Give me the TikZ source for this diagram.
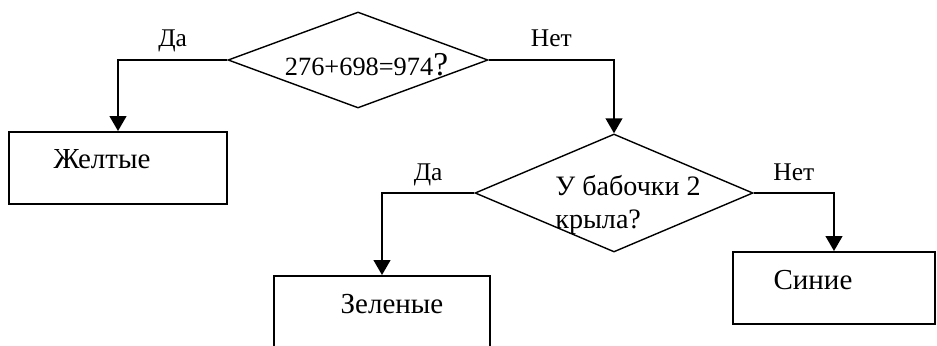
\documentclass[tikz,border=0pt]{standalone}
\usepackage{fontspec}
\setmainfont{Liberation Serif}
\usetikzlibrary{shapes.geometric,arrows.meta,positioning}

\begin{document}
\begin{tikzpicture}[line join=miter,
	decision/.style = {diamond, draw, line width=0.8pt, inner sep=0pt},
	result/.style = {rectangle, draw, line width=1.1pt, inner sep=0pt},
	txt/.style = {inner sep=0pt, font=\fontsize{16.5}{19}\selectfont},
	lbl/.style = {inner sep=0pt, text depth=0pt, font=\fontsize{14.5}{17}\selectfont},
	flow/.style = {line width=1.1pt, -{Triangle[length=8.5pt,width=9.5pt]}}]
	\useasboundingbox (0,0) rectangle (18.74,-6.90);
	\clip (0,0) rectangle (18.74,-6.90);
	\node (Q1) at ( 7.16, -1.20)	[decision, minimum width=5.20cm, minimum height=1.92cm]	{};
	\node (Q2) at (12.28, -3.86)	[decision, minimum width=5.56cm, minimum height=2.36cm]	{};
	\node (Y)  at ( 2.36, -3.36)	[result, minimum width=4.36cm, minimum height=1.44cm]	{};
	\node (G)  at ( 7.64, -6.52)	[result, minimum width=4.32cm, minimum height=2.00cm]	{};
	\node (B)  at (16.68, -5.76)	[result, minimum width=4.04cm, minimum height=1.44cm]	{};
	% texts
	\node (Q1t) at ( 7.33, -1.50)	[txt, anchor=base, font=\fontsize{15}{18}\selectfont]	{276+698=974{\fontsize{19}{22}\selectfont ?}};
	\node (Q2t) at (11.10, -4.10)	[txt, anchor=west, align=left, font=\fontsize{16}{18.7}\selectfont]	{У бабочки 2\\крыла?};
	\node (Yt)  at ( 2.04, -3.36)	[txt, anchor=base]	{Желтые};
	\node (Gt)  at ( 7.84, -6.26)	[txt, anchor=base]	{Зеленые};
	\node (Bt)  at (16.26, -5.78)	[txt, anchor=base]	{Синие};
	% connectors
	\draw[flow] (Q1.west) -| node[lbl, above=7pt, pos=0.25] {Да} (Y.north);
	\draw[flow] (Q1.east) -| node[lbl, above=7pt, pos=0.25] {Нет} (Q2.north);
	\draw[flow] (Q2.west) -| node[lbl, above=6.5pt, pos=0.25] {Да} (G.north);
	\draw[flow] (Q2.east) -| node[lbl, above=6.5pt, pos=0.25] {Нет} (B.north);
\end{tikzpicture}
\end{document}
